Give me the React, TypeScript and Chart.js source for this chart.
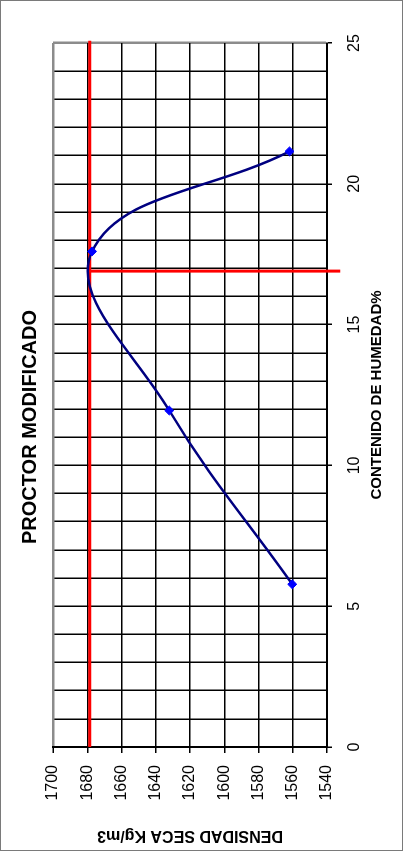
import React, { useEffect, useRef } from "react";
import { Chart, registerables } from "chart.js";

Chart.register(...registerables);

// Measured points: humidity (%) vs dry density (kg/m3)
const humidity = [5.78, 11.95, 17.6, 21.15];
const density = [1560.3, 1632.1, 1677.2, 1561.9];

// Reference lines (maximum dry density / optimum humidity)
const maxDensity = 1678.5;
const maxDensityLineX = [0, 25.08];
const optimumHumidity = 16.9;
const optimumLineY = [1678.5, 1532.2];

// Axis ranges
const humidityMin = 0;
const humidityMax = 25;
const humidityStep = 1;
const humidityLabelEvery = 5;
const densityMin = 1540;
const densityMax = 1700;
const densityStep = 20;

const titleText = "PROCTOR MODIFICADO";
const xTitle = "CONTENIDO DE HUMEDAD%";
const yTitle = "DENSIDAD SECA Kg/m3";

const W = 854;
const H = 406;
const FONT = '"Liberation Sans", Arial, Helvetica, sans-serif';

export default function App() {
  const ref = useRef<HTMLCanvasElement | null>(null);

  useEffect(() => {
    document.body.style.overflow = "hidden";
    const canvas = ref.current;
    if (!canvas) return;

    const curve = humidity.map((h, i) => ({ x: h, y: density[i] }));
    const hLine = maxDensityLineX.map((x) => ({ x, y: maxDensity }));
    const vLine = optimumLineY.map((y) => ({ x: optimumHumidity, y }));

    const chart = new Chart(canvas, {
      type: "line",
      data: {
        datasets: [
          {
            data: curve,
            borderColor: "#000080",
            borderWidth: 2.5,
            tension: 0.4,
            cubicInterpolationMode: "default",
            pointStyle: "rectRot",
            pointRadius: 4.5,
            pointBackgroundColor: "#0000FF",
            pointBorderColor: "#0000FF",
            pointBorderWidth: 1,
            fill: false,
          },
          {
            data: hLine,
            borderColor: "#FF0000",
            borderWidth: 3,
            pointRadius: 0,
            tension: 0,
            clip: false,
            fill: false,
          },
          {
            data: vLine,
            borderColor: "#FF0000",
            borderWidth: 3,
            pointRadius: 0,
            tension: 0,
            clip: false,
            fill: false,
          },
        ],
      },
      options: {
        responsive: false,
        animation: false,
        devicePixelRatio: 1,
        layout: { padding: { left: 0, right: 0, top: 0, bottom: 0 } },
        plugins: {
          legend: { display: false },
          tooltip: { enabled: false },
          title: {
            display: true,
            text: titleText,
            color: "#000",
            font: { family: FONT, size: 20, weight: "bold", lineHeight: 1.2 },
            padding: { top: 18, bottom: 11 },
          },
        },
        scales: {
          x: {
            type: "linear",
            position: "bottom",
            min: humidityMin,
            max: humidityMax,
            afterFit: (s: any) => {
              s.height = 79;
            },
            ticks: {
              stepSize: humidityStep,
              autoSkip: false,
              maxRotation: 0,
              minRotation: 0,
              padding: 13,
              color: "#000",
              font: { family: FONT, size: 16 },
              callback: (v: any) => (Number(v) % humidityLabelEvery === 0 ? String(v) : ""),
            },
            grid: {
              color: (c: any) => (c.tick && c.tick.value === humidityMax ? "#8c8c8c" : "#000"),
              lineWidth: (c: any) => (c.tick && c.tick.value === humidityMax ? 2.5 : 1.5),
              tickLength: 5,
              tickWidth: 1.5,
              tickColor: (c: any) =>
                c.tick && c.tick.value % humidityLabelEvery === 0 ? "#000" : "rgba(0,0,0,0)",
            },
            border: { display: true, color: "#000", width: 2 },
            title: {
              display: true,
              text: xTitle,
              color: "#000",
              font: { family: FONT, size: 15, weight: "bold", lineHeight: 1.2 },
              padding: { top: 0, bottom: 20 },
            },
          },
          y: {
            type: "linear",
            position: "left",
            min: densityMin,
            max: densityMax,
            afterFit: (s: any) => {
              s.width = 107;
            },
            ticks: {
              stepSize: densityStep,
              padding: 12,
              color: "#000",
              font: { family: FONT, size: 16 },
              callback: (v: any) => String(v),
            },
            grid: {
              color: (c: any) => (c.tick && c.tick.value === densityMax ? "#8c8c8c" : "#000"),
              lineWidth: (c: any) => (c.tick && c.tick.value === densityMax ? 2.5 : 1.5),
              tickLength: 6,
              tickWidth: 1.5,
              tickColor: "#000",
            },
            border: { display: true, color: "#000", width: 2 },
            title: {
              display: true,
              text: yTitle,
              color: "#000",
              font: { family: FONT, size: 16, weight: "bold", lineHeight: 1.2 },
              padding: { top: 9.4, bottom: 0 },
            },
          },
          spacer: {
            type: "linear",
            position: "right",
            display: true,
            afterFit: (s: any) => {
              s.width = 43;
            },
            ticks: { display: false },
            grid: { display: false, drawTicks: false },
            border: { display: false },
          },
        },
      } as any,
    });

    return () => chart.destroy();
  }, []);

  return (
    <>
      <div
        style={{
          position: "absolute",
          left: 0,
          top: 0,
          width: W,
          height: H,
          transformOrigin: "0 0",
          transform: `translate(0px, ${W}px) rotate(-90deg)`,
          background: "#fff",
        }}
      >
        <canvas ref={ref} width={W} height={H} style={{ display: "block", width: W, height: H }} />
      </div>
      <div
        style={{
          position: "absolute",
          left: 0,
          top: 0,
          width: 403,
          height: 851,
          boxSizing: "border-box",
          border: "1px solid #7a7a7a",
          pointerEvents: "none",
        }}
      />
    </>
  );
}
